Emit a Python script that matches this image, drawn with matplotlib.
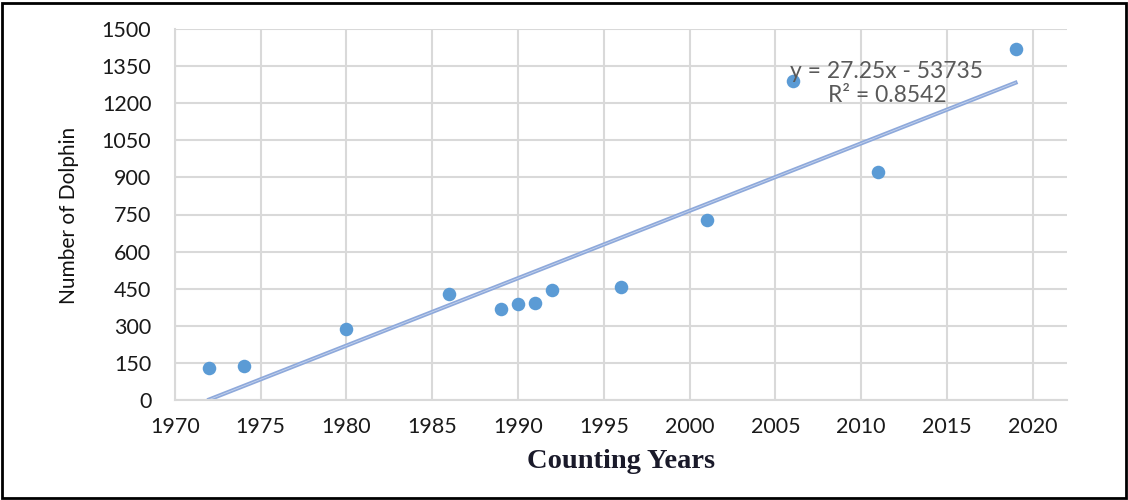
import matplotlib.pyplot as plt
import numpy as np
from matplotlib.patches import Rectangle

years = [1972, 1974, 1980, 1986, 1989, 1990, 1991, 1992, 1996, 2001, 2006, 2011, 2019]
dolphins = [130, 138, 289, 430, 368, 388, 394, 445, 458, 726, 1290, 920, 1419]
xticks = list(range(1970, 2021, 5))
yticks = list(range(0, 1501, 150))

fig = plt.figure(figsize=(11.28, 5), dpi=100)
ax = fig.add_axes([0.1551, 0.2, 0.7908, 0.742])

# trendline (shown the way the spreadsheet reports it)
slope, intercept = 27.25, -53735
xs = np.array([min(years), max(years)])
ax.plot(xs, slope * xs + intercept, color="#8EA9DB", lw=3, zorder=2)
ax.plot(xs, slope * xs + intercept, color="white", lw=0.6, alpha=0.5, zorder=2)

ax.scatter(years, dolphins, s=95, color="#5B9BD5", zorder=3, linewidths=0)

ax.set_xlim(1970, 2022)
ax.set_ylim(0, 1500)
ax.set_xticks(xticks)
ax.set_yticks(yticks)
ax.grid(True, color="#D9D9D9", lw=1.5)
ax.set_axisbelow(True)
for s in ["top", "right"]:
    ax.spines[s].set_visible(False)
for s in ["left", "bottom"]:
    ax.spines[s].set_color("#D9D9D9")
    ax.spines[s].set_linewidth(1.5)
ax.tick_params(length=0, labelsize=15.5, labelcolor="#1a1a1a")
ax.tick_params(axis="y", pad=17)
ax.tick_params(axis="x", pad=12)
for lab in ax.get_xticklabels() + ax.get_yticklabels():
    lab.set_family("Lato")

ax.text(2011.5, 1330, "y = 27.25x - 53735", ha="center", va="center",
        fontsize=16.5, color="#595959", family="Lato")
ax.text(2011.5, 1232, "R² = 0.8542", ha="center", va="center",
        fontsize=16.5, color="#595959", family="Lato")

fig.text(0.061, 0.57, "Number of Dolphin", rotation=90, ha="center", va="center",
         fontsize=15, family="Lato", color="#111111")
fig.text(0.551, 0.076, "Counting Years", ha="center", va="center",
         fontsize=20.5, fontweight="bold", family="Liberation Serif", color="#1a1a2a")

fig.patches.append(Rectangle((0.002, 0.004), 0.996, 0.99, transform=fig.transFigure,
                             fill=False, edgecolor="black", lw=2))

fig.savefig("out.png", dpi=100)
